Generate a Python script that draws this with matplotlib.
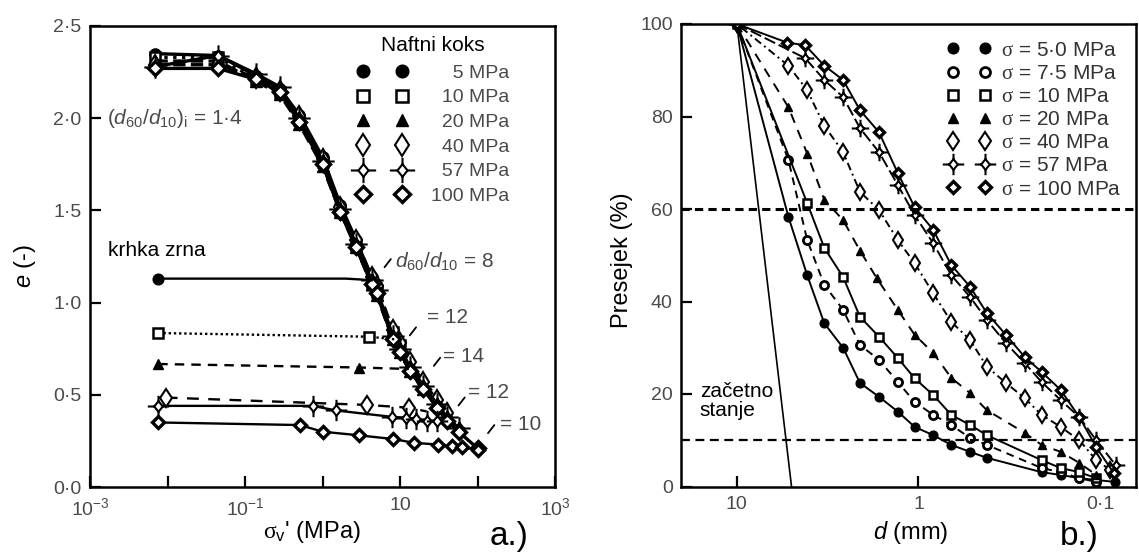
import matplotlib
matplotlib.use('Agg')
import matplotlib.pyplot as plt
from matplotlib.lines import Line2D
from matplotlib.path import Path

plt.rcParams['font.family'] = ['Liberation Sans', 'DejaVu Sans']
plt.rcParams['mathtext.fontset'] = 'custom'
plt.rcParams['mathtext.rm'] = 'Liberation Serif'
plt.rcParams['mathtext.it'] = 'Liberation Sans:italic'
plt.rcParams['mathtext.sf'] = 'Liberation Sans'

# ---------------- a.) compression curves (naftni koks) ----------------
sigma_ncl = [0.007, 0.045, 0.14, 0.28, 0.5, 1.0, 1.7, 2.7, 4.3, 5.0, 8.1, 10, 13.5, 20, 30, 40, 57, 100]
e_5 = [2.35, 2.34, 2.23, 2.16, 2.02, 1.79, 1.53, 1.34, 1.14, 1.09]
e_10 = [2.33, 2.33, 2.21, 2.14, 1.99, 1.76, 1.50, 1.31, 1.11, 1.06, 0.84, 0.77]
e_20 = [2.31, 2.31, 2.20, 2.13, 1.97, 1.74, 1.49, 1.30, 1.10, 1.04, 0.80, 0.73, 0.63, 0.53]
e_40 = [2.29, 2.29, 2.22, 2.15, 2.01, 1.78, 1.52, 1.34, 1.14, 1.09, 0.85, 0.78, 0.68, 0.57, 0.47, 0.40]
e_57 = [2.28, 2.34, 2.24, 2.17, 2.00, 1.77, 1.51, 1.32, 1.12, 1.07, 0.82, 0.75, 0.65, 0.55, 0.45, 0.38, 0.32]
e_100 = [2.27, 2.27, 2.21, 2.14, 1.98, 1.75, 1.49, 1.30, 1.10, 1.05, 0.80, 0.73, 0.63, 0.53, 0.43, 0.36, 0.30, 0.21]

# reloading of crushed material (krhka zrna)
rs_5 = [0.0076, 2.0, 3.2, 4.3]
re_5 = [1.13, 1.13, 1.125, 1.12]
rs_10 = [0.0076, 4.0, 9.0]
re_10 = [0.835, 0.815, 0.80]
rs_20 = [0.0076, 3.0, 13.0]
re_20 = [0.667, 0.648, 0.64]
rs_40 = [0.0095, 3.8, 13.0, 22.0]
re_40 = [0.485, 0.445, 0.43, 0.41]
rs_57 = [0.0075, 0.75, 1.5, 8.0, 12.0, 16.0, 22.0, 30.0]
re_57 = [0.44, 0.44, 0.415, 0.38, 0.375, 0.37, 0.36, 0.36]
rs_100 = [0.0076, 0.51, 1.0, 3.0, 8.2, 15.0, 31.0, 47.0, 64.0, 100.0]
re_100 = [0.35, 0.336, 0.30, 0.28, 0.26, 0.24, 0.23, 0.22, 0.217, 0.20]

ratio_labels = [r'$d_{\mathsf{60}}\mathsf{/}d_{\mathsf{10}}$ = 8', '= 12', '= 14', '= 12', '= 10']
ratio_text_x = [8.6, 22.4, 35.5, 75.0, 195.0]
ratio_text_y = [1.22, 0.92, 0.71, 0.515, 0.34]
ratio_tick_x = [6.0, 12.7, 26.0, 54.0, 130.0]
ratio_tick_y = [1.18, 0.81, 0.645, 0.43, 0.28]

a_pressures = ['5 MPa', '10 MPa', '20 MPa', '40 MPa', '57 MPa', '100 MPa']

# ---------------- b.) grading curves ----------------
d_init = [10, 5.0]
p_init = [100, 0]
d_50 = [10, 5.2, 4.1, 3.3, 2.6, 2.1, 1.65, 1.3, 1.05, 0.83, 0.66, 0.52, 0.42, 0.21, 0.165, 0.13, 0.105, 0.083]
p_50 = [100, 58.3, 45.7, 35.3, 30.0, 22.4, 19.4, 16.2, 12.9, 11.1, 9.0, 7.5, 6.2, 3.1, 2.5, 1.8, 1.4, 1.0]
d_75 = [10, 5.2, 4.1, 3.3, 2.6, 2.1, 1.65, 1.3, 1.05, 0.83, 0.66, 0.52, 0.42, 0.21, 0.165, 0.13, 0.105]
p_75 = [100, 70.6, 53.3, 43.6, 38.2, 30.6, 27.4, 22.6, 18.3, 15.5, 13.3, 10.5, 9.0, 4.0, 3.1, 1.8, 1.0]
d_10 = [10, 4.1, 3.3, 2.6, 2.1, 1.65, 1.3, 1.05, 0.83, 0.66, 0.52, 0.42, 0.21, 0.165, 0.13, 0.105]
p_10 = [100, 61.3, 51.6, 45.3, 36.7, 32.4, 27.8, 23.4, 19.8, 15.5, 13.3, 11.1, 5.7, 4.0, 3.1, 1.8]
d_20 = [10, 5.2, 4.1, 3.3, 2.6, 2.1, 1.7, 1.3, 1.05, 0.83, 0.66, 0.52, 0.42, 0.26, 0.21, 0.165, 0.13, 0.105]
p_20 = [100, 82, 72, 62, 57.6, 51, 45.1, 38.2, 32.8, 28.9, 23.5, 20.2, 16.5, 11.6, 9.0, 7.5, 5.1, 2.5]
d_40 = [10, 5.2, 4.1, 3.3, 2.6, 2.1, 1.65, 1.3, 1.05, 0.83, 0.66, 0.52, 0.42, 0.33, 0.26, 0.21, 0.165, 0.13, 0.105, 0.088]
p_40 = [100, 91, 85.7, 78, 72.3, 63.7, 59.8, 53.3, 48.3, 41.8, 35.6, 31.7, 25.9, 22.4, 19.1, 15.5, 12.9, 10, 5.7, 3.6]
d_57 = [10, 4.2, 3.3, 2.6, 2.1, 1.65, 1.3, 1.05, 0.83, 0.66, 0.52, 0.42, 0.33, 0.26, 0.21, 0.165, 0.13, 0.105, 0.082]
p_57 = [100, 92.6, 87.9, 84.2, 77.5, 72.3, 65.2, 58.7, 52.6, 45.7, 41, 36, 31, 26.7, 22.6, 18.7, 15, 10, 4.6]
d_100 = [10, 5.3, 4.2, 3.3, 2.6, 2.1, 1.65, 1.3, 1.05, 0.83, 0.66, 0.52, 0.42, 0.33, 0.26, 0.21, 0.165, 0.13, 0.105, 0.084]
p_100 = [100, 96, 95.4, 91, 87.9, 81.4, 76.6, 67.8, 60.4, 55.5, 47.9, 43.2, 37.5, 32.8, 28, 24.8, 20.9, 15, 8.5, 2.9]

b_labels = ['5·0 MPa', '7·5 MPa', '10 MPa', '20 MPa', '40 MPa', '57 MPa', '100 MPa']
ref_lines = [60, 10]

GREY = '#4a4a4a'

# diamond with four spikes (57 MPa symbol)
star_path = Path(
    [(0, 0.5), (0.4, 0), (0, -0.5), (-0.4, 0), (0, 0.5),
     (0, 0.5), (0, 1), (0, -0.5), (0, -1),
     (0.4, 0), (1, 0), (-0.4, 0), (-1, 0)],
    [Path.MOVETO, Path.LINETO, Path.LINETO, Path.LINETO, Path.CLOSEPOLY,
     Path.MOVETO, Path.LINETO, Path.MOVETO, Path.LINETO,
     Path.MOVETO, Path.LINETO, Path.MOVETO, Path.LINETO])


def sym(kind, scale=1.0):
    if kind == 'circle':
        s = dict(marker='o', mfc='black', mec='black', ms=7)
    elif kind == 'ring':
        s = dict(marker='o', mfc='white', mec='black', mew=2.0, ms=6.5)
    elif kind == 'square':
        s = dict(marker='s', mfc='white', mec='black', mew=1.8, ms=6.5)
    elif kind == 'triangle':
        s = dict(marker='^', mfc='black', mec='black', ms=7)
    elif kind == 'diamond':
        s = dict(marker='d', mfc='white', mec='black', mew=1.5, ms=8.5)
    elif kind == 'star':
        s = dict(marker=star_path, mfc='white', mec='black', mew=1.5, ms=14)
    else:
        s = dict(marker='D', mfc='white', mec='black', mew=2.4, ms=6)
    s['ms'] = s['ms'] * scale
    return s


fig = plt.figure(figsize=(11.39, 5.54), dpi=100)
ax1 = fig.add_axes([90 / 1139, 1 - 487 / 554, 465 / 1139, 461 / 554])
ax2 = fig.add_axes([681 / 1139, 1 - 486.5 / 554, 455 / 1139, 462.5 / 554])

# ---- a.) ----
a_kinds = ['circle', 'square', 'triangle', 'diamond', 'star', 'bold']
load_e = [e_5, e_10, e_20, e_40, e_57, e_100]
load_ls = ['-', ':', '--', '--', '-', '-']
for e, ls, kind in zip(load_e, load_ls, a_kinds):
    ax1.plot(sigma_ncl[:len(e)], e, color='black', lw=2.4, ls=ls, **sym(kind, 1.15))

reload_s = [rs_5, rs_10, rs_20, rs_40, rs_57, rs_100]
reload_e = [re_5, re_10, re_20, re_40, re_57, re_100]
reload_ls = ['-', (0, (1, 1.2)), (0, (4, 3)), (0, (5, 4)), '-', '-']
reload_mark = [[0], [0, 1], [0, 1], [0, 1, 2], None, None]
for s, e, ls, kind, me in zip(reload_s, reload_e, reload_ls, a_kinds, reload_mark):
    ax1.plot(s, e, color='black', lw=1.7, ls=ls, markevery=me, **sym(kind, 1.1))

for lab, tx, ty, px, py in zip(ratio_labels, ratio_text_x, ratio_text_y, ratio_tick_x, ratio_tick_y):
    ax1.text(tx, ty, lab, fontsize=15, color=GREY, va='center', ha='left')
    ax1.annotate('', xy=(px, py), xytext=(7, 9), textcoords='offset points',
                 arrowprops=dict(arrowstyle='-', lw=1.3, color='black'))

ax1.text(0.00166, 2.0, r'$\mathsf{(}d_{\mathsf{60}}\mathsf{/}d_{\mathsf{10}}\mathsf{)}_{\mathsf{i}}$ = 1·4',
         fontsize=15, color=GREY, va='center', ha='left')
ax1.text(0.0017, 1.285, 'krhka zrna', fontsize=15, color='black', va='center', ha='left')

a_handles = []
for kind in a_kinds:
    a_handles.append(Line2D([], [], color='black', ls='none', **sym(kind, 1.3)))
a_names = ['\u2007\u2007' + a_pressures[0]] + ['\u2007' + p for p in a_pressures[1:5]] + [a_pressures[5]]
leg1 = ax1.legend(a_handles, a_names, loc='upper left', bbox_to_anchor=(0.574, 0.917),
                  frameon=False, numpoints=2, handlelength=2.6, handletextpad=1.2,
                  labelspacing=0.36, borderpad=0, borderaxespad=0, fontsize=14)
for t in leg1.get_texts():
    t.set_color(GREY)
ax1.text(0.738, 0.958, 'Naftni koks', transform=ax1.transAxes, fontsize=15,
         ha='center', va='center')

ax1.set_xscale('log')
ax1.set_xlim(1e-3, 1e3)
ax1.set_ylim(0, 2.5)
ax1.set_xticks([1e-3, 1e-2, 1e-1, 1, 10, 100, 1e3])
ax1.set_xticklabels([r'$\mathsf{10^{-3}}$', '', r'$\mathsf{10^{-1}}$', '', '10', '', r'$\mathsf{10^{3}}$'])
ax1.set_yticks([0, 0.5, 1.0, 1.5, 2.0, 2.5])
ax1.set_yticklabels(['0·0', '0·5', '1·0', '1·5', '2·0', '2·5'])
ax1.minorticks_off()

# ---- b.) ----
ax2.plot(d_init, p_init, color='black', lw=1.2)
b_d = [d_50, d_75, d_10, d_20, d_40, d_57, d_100]
b_p = [p_50, p_75, p_10, p_20, p_40, p_57, p_100]
b_kinds = ['circle', 'ring', 'square', 'triangle', 'diamond', 'star', 'bold']
b_ls = ['-', (0, (4, 3)), '-', (0, (5, 4)), (0, (1, 2, 4, 2)), (0, (6, 2)), '-']
for d, p, kind, ls in zip(b_d, b_p, b_kinds, b_ls):
    ax2.plot(d, p, color='black', lw=1.4, ls=ls, **sym(kind, 0.9))

ax2.axhline(ref_lines[0], color='black', lw=2.2, ls=(0, (2.7, 1.7)))
ax2.axhline(ref_lines[1], color='black', lw=1.6, ls=(0, (4, 2.5)))
ax2.text(16.0, 18.5, 'začetno\nstanje', fontsize=15, color='black', va='center', ha='left',
         linespacing=1.0)

b_handles = []
for kind in b_kinds:
    b_handles.append(Line2D([], [], color='black', ls='none', **sym(kind, 1.1)))
b_names = [r'$\mathrm{\sigma}$ = ' + lab for lab in b_labels]
leg2 = ax2.legend(b_handles, b_names, loc='upper left', bbox_to_anchor=(0.583, 0.964),
                  frameon=False, numpoints=2, handlelength=2.15, handletextpad=0.5,
                  labelspacing=0.2, borderpad=0, borderaxespad=0, fontsize=15)
for t in leg2.get_texts():
    t.set_color('#333333')

ax2.set_xscale('log')
ax2.set_xlim(20.3, 0.0634)
ax2.set_ylim(0, 100)
ax2.set_xticks([10, 1, 0.1])
ax2.set_xticklabels(['10', '1', '0·1'])
ax2.set_yticks([0, 20, 40, 60, 80, 100])
ax2.set_yticklabels(['0', '20', '40', '60', '80', '100'])
ax2.minorticks_off()

for ax in (ax1, ax2):
    for sp in ax.spines.values():
        sp.set_linewidth(1.8)
    ax.tick_params(axis='both', direction='in', length=8, width=1.6, labelsize=14,
                   labelcolor=GREY)
    ax.tick_params(axis='x', pad=7)
    ax.tick_params(axis='y', pad=6)

# axis labels and panel letters
fig.text(25 / 1139, 1 - 266 / 554, r'$e$ (-)', rotation=90, fontsize=17, ha='center', va='center')
fig.text(312 / 1139, 1 - 532 / 554, r"$\mathrm{\sigma}_{\mathsf{v}}$' (MPa)", fontsize=17,
         ha='center', va='center')
fig.text(509 / 1139, 1 - 537 / 554, 'a.)', fontsize=24, ha='center', va='center')
fig.text(622 / 1139, 1 - 260 / 554, 'Presejek (%)', rotation=90, fontsize=17, ha='center', va='center')
fig.text(911 / 1139, 1 - 533 / 554, r'$d$ (mm)', fontsize=17, ha='center', va='center')
fig.text(1079 / 1139, 1 - 537 / 554, 'b.)', fontsize=24, ha='center', va='center')

fig.savefig('out.png', dpi=100)
